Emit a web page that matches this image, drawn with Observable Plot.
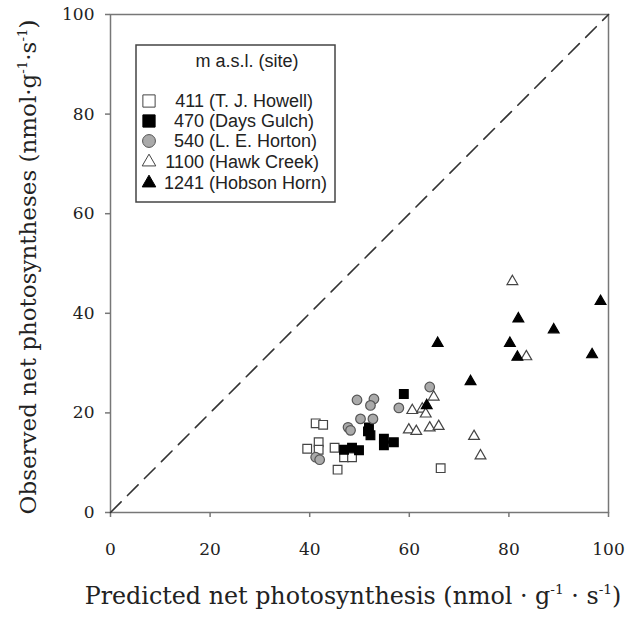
<!DOCTYPE html>
<html><head><meta charset="utf-8">
<script src="https://cdn.jsdelivr.net/npm/d3@7"></script>
<script src="https://cdn.jsdelivr.net/npm/@observablehq/plot@0.6"></script>
<style>body{margin:0;background:#fff;overflow:hidden}</style>
</head><body><div id="chart"></div>
<script>
// ---- data ----
const xTicks = [0, 20, 40, 60, 80, 100];
const yTicks = [0, 20, 40, 60, 80, 100];
const identityLine = [0, 100];

const howellX = [41.2, 42.7, 41.8, 39.5, 41.8, 45.0, 46.9, 48.5, 45.6, 66.3];
const howellY = [17.9, 17.6, 14.1, 12.8, 12.6, 13.0, 11.1, 11.1, 8.6, 8.9];

const hortonX = [49.5, 52.9, 52.2, 50.2, 52.7, 47.7, 48.2, 41.2, 42.0, 64.1, 57.9];
const hortonY = [22.6, 22.8, 21.5, 18.8, 18.8, 17.1, 16.5, 11.1, 10.6, 25.2, 21.0];

const daysX = [58.9, 51.9, 52.2, 51.7, 54.9, 54.9, 56.9, 46.9, 48.5, 49.9];
const daysY = [23.8, 17.1, 15.5, 16.3, 14.8, 13.5, 14.1, 12.6, 13.0, 12.5];

const hawkX = [64.9, 60.6, 62.6, 63.3, 59.9, 61.4, 64.1, 65.9, 73.0, 74.3, 80.7, 83.5];
const hawkY = [23.2, 20.5, 20.8, 19.8, 16.6, 16.3, 17.0, 17.3, 15.3, 11.4, 46.4, 31.3];

const hobsonX = [65.7, 72.3, 63.5, 98.4, 81.9, 89.0, 80.2, 81.7, 96.7];
const hobsonY = [34.0, 26.3, 21.5, 42.4, 38.9, 36.7, 34.0, 31.2, 31.7];

const legendTitle = "m a.s.l. (site)";
const legendElev = ["411", "470", "540", "1100", "1241"];
const legendSite = ["(T. J. Howell)", "(Days Gulch)", "(L. E. Horton)", "(Hawk Creek)", "(Hobson Horn)"];

const xTitle = ["Predicted net photosynthesis (nmol · g", "-1", " · s", "-1", ")"];
const yTitle = ["Observed net photosyntheses (nmol·g", "-1", "·s", "-1", ")"];

// ---- styles ----
const serif = "'DejaVu Serif', serif";
const series = [
  {x: howellX, y: howellY, symbol: "square", fill: "white", stroke: "#444", r: 4.9},
  {x: daysX, y: daysY, symbol: "square", fill: "black", stroke: "black", r: 4.9},
  {x: hortonX, y: hortonY, symbol: "circle", fill: "#aaa", stroke: "#555", r: 4.8},
  {x: hawkX, y: hawkY, symbol: "triangle", fill: "white", stroke: "#444", r: 4.0},
  {x: hobsonX, y: hobsonY, symbol: "triangle", fill: "black", stroke: "black", r: 4.0}
];

const pts = s => s.x.map((v, i) => ({x: v, y: s.y[i]}));

const chart = Plot.plot({
  width: 628, height: 620,
  marginLeft: 110, marginRight: 20, marginTop: 14, marginBottom: 108,
  x: {domain: [0, 100]},
  y: {domain: [0, 100]},
  style: {fontFamily: serif, fontSize: "17px", color: "#222", background: "white", overflow: "visible"},
  marks: [
    Plot.frame({stroke: "#777", strokeWidth: 1.5}),
    Plot.axisX({ticks: xTicks, tickSize: 5, tickPadding: 25, label: null, stroke: "#777", strokeWidth: 1.5, fill: "#222"}),
    Plot.axisY({ticks: yTicks, tickSize: 5, tickPadding: 11, label: null, stroke: "#777", strokeWidth: 1.5, fill: "#222"}),
    Plot.line(identityLine, {x: d => d, y: d => d, stroke: "#333", strokeWidth: 1.6, strokeDasharray: "15,9"}),
    ...series.map(s => Plot.dot(pts(s), {x: "x", y: "y", symbol: s.symbol, r: s.r, fill: s.fill, stroke: s.stroke, strokeWidth: 1.2}))
  ]
});
document.getElementById("chart").append(chart);

const svg = d3.select(chart);

function titled(g, parts, size, target) {
  const t = g.append("text").attr("font-family", serif).attr("fill", "#222").attr("text-anchor", "middle");
  const build = sz => {
    t.selectAll("tspan").remove();
    t.attr("font-size", sz);
    parts.forEach((p, i) => {
      const ts = t.append("tspan").text(p);
      if (i % 2 === 1) ts.attr("font-size", sz * 0.58).attr("dy", -sz * 0.4);
      else if (i > 0) ts.attr("dy", sz * 0.4);
    });
  };
  build(size);
  const len = t.node().getComputedTextLength();
  if (len > 0) build(size * target / len);
  return t;
}
titled(svg.append("g").attr("transform", "translate(353,604)"), xTitle, 22, 537);
titled(svg.append("g").attr("transform", "translate(36,267) rotate(-90)"), yTitle, 22, 495);

// ---- legend ----
const lg = svg.append("g").attr("font-family", "'Liberation Sans', Arial, sans-serif").attr("font-size", 18).attr("fill", "#222");
lg.append("rect").attr("x", 136).attr("y", 45).attr("width", 199).attr("height", 157).attr("fill", "white").attr("stroke", "#444").attr("stroke-width", 1.5);
lg.append("text").attr("x", 247).attr("y", 61).attr("dy", "0.35em").attr("text-anchor", "middle").text(legendTitle);
const rowY = [101, 121, 141, 162, 183];
const symMap = {square: d3.symbolSquare, circle: d3.symbolCircle, triangle: d3.symbolTriangle};
series.forEach((s, i) => {
  const area = s.symbol === "triangle" ? 80 : (s.symbol === "square" ? 150 : 130);
  lg.append("path").attr("d", d3.symbol(symMap[s.symbol], area)()).attr("transform", `translate(149,${rowY[i]})`)
    .attr("fill", s.fill).attr("stroke", s.stroke).attr("stroke-width", 1);
  lg.append("text").attr("x", 204).attr("y", rowY[i]).attr("dy", "0.35em").attr("text-anchor", "end").text(legendElev[i]);
  lg.append("text").attr("x", 209).attr("y", rowY[i]).attr("dy", "0.35em").attr("text-anchor", "start").text(legendSite[i]);
});
</script></body></html>
